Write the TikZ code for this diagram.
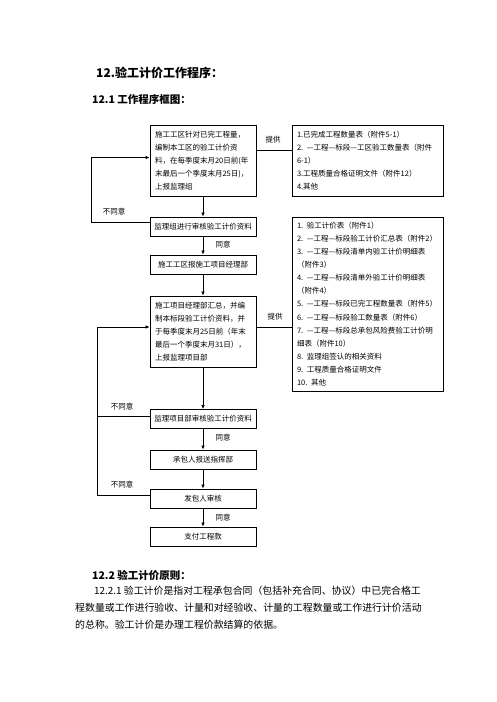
\documentclass[tikz,border=0pt]{standalone}
\usepackage{fontspec}
\setmainfont{Noto Sans CJK SC}
\usetikzlibrary{arrows.meta}
\begin{document}
\begin{tikzpicture}[x=1pt,y=-1pt,
  box/.style={draw,line width=0.9pt,inner sep=0pt,minimum width=106pt,minimum height=19pt,font=\fontsize{7.5}{13}\selectfont},
  tall/.style={box,minimum height=71pt,align=left,text width=96pt},
  rbox/.style={draw,line width=0.9pt,inner sep=0pt,minimum width=151pt,align=left,text width=141pt,font=\fontsize{7.5}{13.1}\selectfont},
  lbl/.style={inner sep=0pt,font=\fontsize{7.5}{9}\selectfont},
  arr/.style={line width=0.8pt,-{Latex[length=4pt,width=3.6pt]}},
  ln/.style={line width=0.8pt}]
\useasboundingbox (0,0) rectangle (496,702);
\fill[white] (0,0) rectangle (496,702);
% headings
\node[anchor=west,inner sep=0pt,font=\fontsize{12}{14}\selectfont\bfseries] (t1) at (96,73) {12.验工计价工作程序：};
\node[anchor=west,inner sep=0pt,font=\fontsize{10.5}{12}\selectfont\bfseries] (t2) at (92,99) {12.1 工作程序框图：};
% main column
\node[tall] (b1) at (203,160.5) {施工工区针对已完工程量，\\编制本工区的验工计价资\\料，在每季度末月20日前(年\\末最后一个季度末月25日)，\\上报监理组};
\node[box] (b2) at (203,226.5) {监理组进行审核验工计价资料};
\node[box] (b3) at (203,264.5) {施工工区报施工项目经理部};
\node[tall] (b4) at (203,331.5) {施工项目经理部汇总，并编\\制本标段验工计价资料，并\\于每季度末月25日前（年末\\最后一个季度末月31日），\\上报监理项目部};
\node[box] (b5) at (203,419) {监理项目部审核验工计价资料};
\node[box] (b6) at (203,459.5) {承包人报送指挥部};
\node[box] (b7) at (203,498.5) {发包人审核};
\node[box] (b8) at (203,536.5) {支付工程款};
% right boxes
\node[rbox,minimum height=71pt] (r1) at (367.5,160.5) {1.已完成工程数量表（附件5-1）\\2. —工程—标段—工区验工数量表（附件\\6-1）\\3.工程质量合格证明文件（附件12）\\4.其他};
\node[rbox,minimum height=174pt] (r2) at (367.5,304) {1. 验工计价表（附件1）\\2. —工程—标段验工计价汇总表（附件2）\\3. —工程—标段清单内验工计价明细表\\（附件3）\\4. —工程—标段清单外验工计价明细表\\（附件4）\\5. —工程—标段已完工程数量表（附件5）\\6. —工程—标段验工数量表（附件6）\\7. —工程—标段总承包风险费验工计价明\\细表（附件10）\\8. 监理组签认的相关资料\\9. 工程质量合格证明文件\\10. 其他};
% vertical flow
\draw[arr] (b1) -- (b2);
\draw[arr] (b2) -- (b3);
\draw[arr] (b3) -- (b4);
\draw[arr] (b4) -- (b5);
\draw[arr] (b5) -- (b6);
\draw[arr] (b6) -- (b7);
\draw[arr] (b7) -- (b8);
% provide lines
\draw[ln] ([yshift=10.5pt]b1.east) -- ([yshift=10.5pt]b1.east -| r1.west);
\draw[ln] ([yshift=4.5pt]b4.east) -- ([yshift=4.5pt]b4.east -| r2.west);
\node[lbl] (p1) at (273,140) {提供};
\node[lbl] (p2) at (275,317) {提供};
% feedback loops
\coordinate (f1) at (91,0);
\coordinate (f2) at (97,0);
\draw[arr] ([yshift=4pt]b2.west) -- ([yshift=4pt]b2.west -| f1) |- ([yshift=3pt]b1.west);
\draw[arr] ([yshift=3pt]b5.west) -- ([yshift=3pt]b5.west -| f2) |- ([yshift=4.5pt]b4.west);
\draw[ln] ([yshift=3.5pt]b7.west) -- ([yshift=3.5pt]b7.west -| f2) -- ([yshift=3pt]b5.west -| f2);
% labels
\node[lbl] (n1) at (114,212) {不同意};
\node[lbl] (n2) at (122,407) {不同意};
\node[lbl] (n3) at (122,485) {不同意};
\node[lbl] (a1) at (223,245) {同意};
\node[lbl] (a2) at (223,438) {同意};
\node[lbl] (a3) at (223,517.5) {同意};
% bottom text
\node[anchor=west,inner sep=0pt,font=\fontsize{10.5}{12}\selectfont\bfseries] (t3) at (92,575) {12.2 验工计价原则：};
\node[anchor=north west,inner sep=0pt,align=left,font=\fontsize{9.9}{17}\selectfont] (para) at (75,586) {\hspace*{19pt}12.2.1 验工计价是指对工程承包合同（包括补充合同、协议）中已完合格工\\程数量或工作进行验收、计量和对经验收、计量的工程数量或工作进行计价活动\\的总称。验工计价是办理工程价款结算的依据。};
\end{tikzpicture}
\end{document}
